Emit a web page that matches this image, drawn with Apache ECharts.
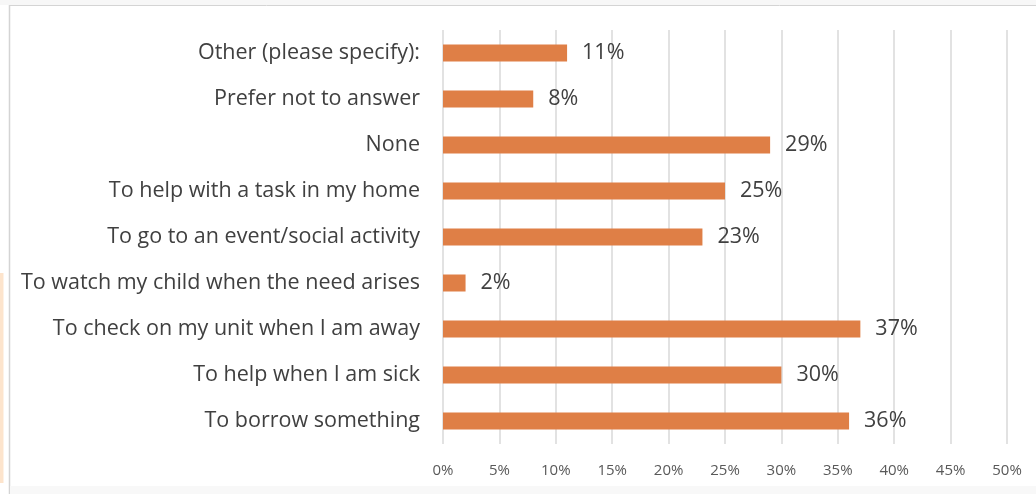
<!DOCTYPE html>
<html>
<head>
<meta charset="utf-8">
<script src="https://cdn.jsdelivr.net/npm/echarts@6/dist/echarts.min.js"></script>
<style>
html,body{margin:0;padding:0;background:#fff;}
#chart{width:1036px;height:494px;}
</style>
</head>
<body>
<div id="chart"></div>
<script>
const categories = [
  "Other (please specify):",
  "Prefer not to answer",
  "None",
  "To help with a task in my home",
  "To go to an event/social activity",
  "To watch my child when the need arises",
  "To check on my unit when I am away",
  "To help when I am sick",
  "To borrow something"
];
const values = [11, 8, 29, 25, 23, 2, 37, 30, 36];
const xTicks = [0, 5, 10, 15, 20, 25, 30, 35, 40, 45, 50];

const chart = echarts.init(document.getElementById('chart'), null, {renderer: 'canvas'});
const font = "'Open Sans', sans-serif";
chart.setOption({
  animation: false,
  backgroundColor: '#ffffff',
  graphic: [
    {type: 'rect', shape: {x: 0, y: 0, width: 1036, height: 5}, style: {fill: '#f7f7f7'}, silent: true},
    {type: 'line', shape: {x1: 10, y1: 5.5, x2: 1036, y2: 5.5}, style: {stroke: '#d4d4d4', lineWidth: 1}, silent: true},
    {type: 'line', shape: {x1: 9.5, y1: 5, x2: 9.5, y2: 494}, style: {stroke: '#d4d4d4', lineWidth: 1.5}, silent: true},
    {type: 'rect', shape: {x: 0, y: 273, width: 3.5, height: 210}, style: {fill: '#fde4cc'}, silent: true},
    {type: 'rect', shape: {x: 10, y: 486, width: 1026, height: 8}, style: {fill: '#f8f8f8'}, silent: true}
  ],
  grid: {left: 443, right: 29, top: 30, bottom: 50, containLabel: false},
  xAxis: {
    type: 'value', min: 0, max: 50, interval: 5,
    axisLine: {show: false}, axisTick: {show: false},
    splitLine: {show: true, lineStyle: {color: '#d9d9d9', width: 1.5}},
    axisLabel: {
      color: '#595959', fontFamily: font, fontSize: 15, margin: 19,
      formatter: v => xTicks.includes(v) ? v + '%' : ''
    }
  },
  yAxis: {
    type: 'category', data: categories, inverse: true,
    axisLine: {show: false}, axisTick: {show: false},
    axisLabel: {color: '#404040', fontFamily: font, fontSize: 21.5, margin: 23}
  },
  series: [{
    type: 'bar', data: values, barWidth: 17,
    itemStyle: {color: '#df7f46'},
    label: {show: true, position: 'right', distance: 15, formatter: '{c}%',
      color: '#404040', fontFamily: font, fontSize: 21.5}
  }]
});
</script>
</body>
</html>
